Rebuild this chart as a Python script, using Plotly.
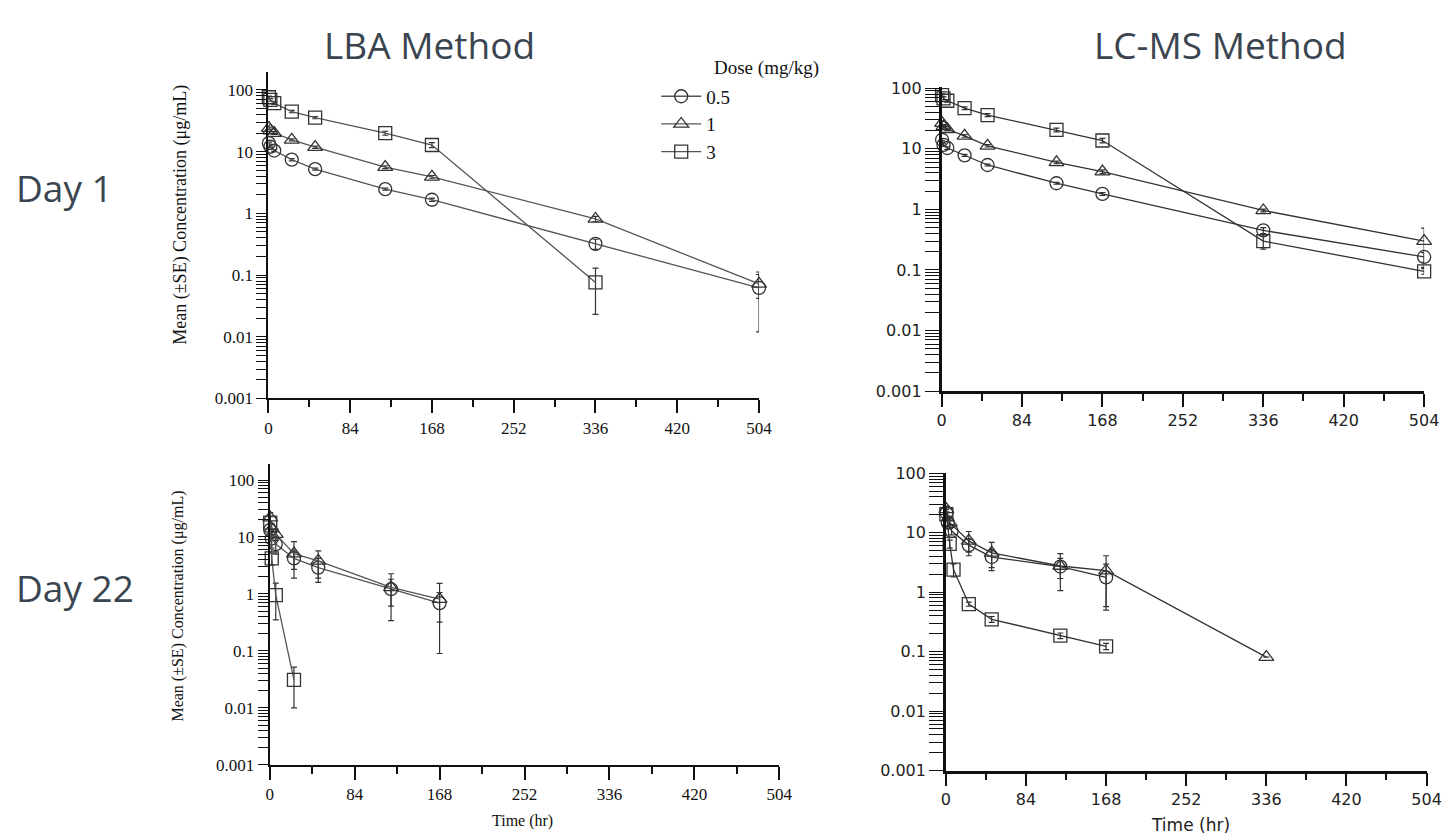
import plotly.graph_objects as go

# ---------------- data ----------------
dose_labels = ["0.5", "1", "3"]

lba_d1_t = [0.5, 2, 6, 24, 48, 120, 168, 336, 504]
lba_d1_sq_t = [0.5, 2, 6, 24, 48, 120, 168, 336]
lba_d1_c05 = [13.7, 12.0, 10.4, 7.4, 5.2, 2.47, 1.66, 0.32, 0.062]
lba_d1_c05_se = [0.5, 0.4, 0.4, 0.3, 0.2, 0.1, 0.1, 0.06, 0.05]
lba_d1_c1 = [24.0, 22.0, 20.0, 15.5, 11.8, 5.6, 3.9, 0.81, 0.072]
lba_d1_c1_se = [1.0, 1.0, 1.0, 0.6, 0.5, 0.3, 0.2, 0.08, 0.03]
lba_d1_c3 = [76.0, 69.0, 61.0, 44.6, 35.6, 19.9, 12.8, 0.076]
lba_d1_c3_se = [3.0, 3.0, 3.0, 2.0, 1.5, 1.5, 1.2, 0.053]

lcms_d1_t = [0.5, 2, 6, 24, 48, 120, 168, 336, 504]
lcms_d1_c05 = [14.1, 11.6, 10.3, 7.8, 5.4, 2.7, 1.8, 0.45, 0.164]
lcms_d1_c05_se = [0.6, 0.5, 0.5, 0.3, 0.2, 0.1, 0.1, 0.05, 0.03]
lcms_d1_c1 = [26.5, 23.4, 21.0, 16.3, 11.2, 5.96, 4.2, 0.96, 0.30]
lcms_d1_c1_se = [1.5, 1.2, 1.0, 0.8, 0.5, 0.3, 0.3, 0.05, 0.19]
lcms_d1_c3 = [77.0, 68.0, 62.0, 46.8, 36.0, 20.5, 13.7, 0.30, 0.095]
lcms_d1_c3_se = [4.0, 4.0, 3.0, 2.5, 2.0, 1.5, 1.2, 0.08, 0.01]

lba_d22_t = [0.5, 2, 6, 24, 48, 120, 168]
lba_d22_sq_t = [0.5, 2, 6, 24]
lba_d22_c05 = [13.3, 9.4, 7.5, 4.2, 2.9, 1.21, 0.69]
lba_d22_c05_se = [4.0, 3.0, 2.5, 1.5, 1.3, 0.6, 0.37]
lba_d22_c1 = [21.9, 14.0, 11.2, 5.1, 3.8, 1.3, 0.81]
lba_d22_c1_se = [5.0, 3.0, 2.5, 3.2, 1.9, 0.96, 0.72]
lba_d22_c3 = [17.8, 4.2, 0.95, 0.031]
lba_d22_c3_se = [5.0, 1.0, 0.6, 0.021]

lcms_d22_c05_t = [0.5, 2, 6, 24, 48, 120, 168]
lcms_d22_c05 = [21.8, 14.8, 10.7, 6.2, 3.9, 2.7, 1.77]
lcms_d22_c05_se = [3.0, 2.0, 1.5, 1.5, 1.3, 1.0, 1.2]
lcms_d22_c1_t = [0.5, 4, 24, 48, 120, 168, 336]
lcms_d22_c1 = [24.8, 14.8, 7.3, 4.6, 2.76, 2.3, 0.081]
lcms_d22_c1_se = [3.0, 3.0, 3.2, 2.3, 1.7, 1.8, 0.0]
lcms_d22_c3_t = [0.5, 4, 8, 24, 48, 120, 168]
lcms_d22_c3 = [20.5, 6.5, 2.4, 0.63, 0.35, 0.186, 0.123]
lcms_d22_c3_se = [2.0, 1.0, 0.6, 0.05, 0.04, 0.02, 0.015]

x_ticks = [0, 84, 168, 252, 336, 420, 504]
x_minor_ticks = [42, 126, 210, 294, 378, 462]
y_ticks = [0.001, 0.01, 0.1, 1, 10, 100]
y_ticktext = ["0.001", "0.01", "0.1", "1", "10", "100"]
y_minor_ticks = [k * 10 ** e for e in range(-3, 2) for k in range(2, 10)]

# ---------------- page geometry ----------------
W, H = 1455, 838
# observed placement of the figure inside the final picture
OX, SX, OY, SY = 11.4, 0.987, 16.9, 0.979


def fx(d):
    return (d - OX) / SX / W


def fy(d):
    return 1 - (d - OY) / SY / H


fig = go.Figure()
symbols = ["circle-open", "triangle-up-open", "square-open"]

panels = [
    ("", [(lba_d1_t, lba_d1_c05, lba_d1_c05_se), (lba_d1_t, lba_d1_c1, lba_d1_c1_se),
          (lba_d1_sq_t, lba_d1_c3, lba_d1_c3_se)], "serif", True),
    ("2", [(lcms_d1_t, lcms_d1_c05, lcms_d1_c05_se), (lcms_d1_t, lcms_d1_c1, lcms_d1_c1_se),
           (lcms_d1_t, lcms_d1_c3, lcms_d1_c3_se)], "sans", False),
    ("3", [(lba_d22_t, lba_d22_c05, lba_d22_c05_se), (lba_d22_t, lba_d22_c1, lba_d22_c1_se),
           (lba_d22_sq_t, lba_d22_c3, lba_d22_c3_se)], "serif", False),
    ("4", [(lcms_d22_c05_t, lcms_d22_c05, lcms_d22_c05_se), (lcms_d22_c1_t, lcms_d22_c1, lcms_d22_c1_se),
           (lcms_d22_c3_t, lcms_d22_c3, lcms_d22_c3_se)], "sans", False),
]

for suffix, series, style, legend in panels:
    line_col = "#555555" if style == "serif" else "#333333"
    for i, (t, v, se) in enumerate(series):
        fig.add_trace(go.Scatter(
            x=t, y=v, mode="lines+markers", name=dose_labels[i], showlegend=legend,
            cliponaxis=False,
            line=dict(color=line_col, width=1.3),
            marker=dict(symbol=symbols[i], size=13, color="#333333",
                        line=dict(color="#333333", width=1.3)),
            error_y=dict(type="data", array=se, visible=True, color="#333333",
                         thickness=1.2, width=3),
            xaxis="x" + suffix, yaxis="y" + suffix,
        ))

# target pixel geometry in the picture: (x0, x1, ytop, ybottom, log-top, style)
geo = {
    "": (267, 758, 72, 399, 2.29, "serif"),
    "2": (940.7, 1423.6, 87, 391.7, 2.02, "sans"),
    "3": (268.3, 778.3, 465, 766, 2.275, "serif"),
    "4": (945, 1426, 474, 771.7, 2.0, "sans"),
}

# all log ticks on one axis: labels only at the decades
all_y_ticks = sorted(y_ticks + y_minor_ticks)
all_y_text = [y_ticktext[y_ticks.index(v)] if v in y_ticks else "" for v in all_y_ticks]

layout_axes = {}
for suffix, (x0, x1, yt, yb, ltop, style) in geo.items():
    if style == "serif":
        tfont = dict(family="Liberation Serif", size=17, color="#111111")
        ylen, lw = 10, 2
    else:
        tfont = dict(family="DejaVu Sans", size=16, color="#222222")
        ylen, lw = 14, 2.5
    layout_axes["xaxis" + suffix] = dict(
        domain=[fx(x0), fx(x1)], anchor="y" + suffix, range=[0, 504],
        tickmode="array", tickvals=x_ticks, ticks="outside", ticklen=13, tickwidth=1.5,
        tickcolor="#111111",
        minor=dict(tickmode="array", tickvals=x_minor_ticks,
                   ticks="outside", ticklen=7, tickwidth=1.5, tickcolor="#111111", showgrid=False),
        showline=True, linecolor="#111111", linewidth=lw, showgrid=False, zeroline=False,
        tickfont=tfont,
    )
    layout_axes["yaxis" + suffix] = dict(
        domain=[fy(yb), fy(yt)], anchor="x" + suffix, type="log", range=[-3, ltop],
        tickmode="array", tickvals=all_y_ticks, ticktext=all_y_text,
        ticks="outside", ticklen=ylen, tickwidth=1.2, tickcolor="#111111",
        showline=True, linecolor="#111111", linewidth=lw, showgrid=False, zeroline=False,
        tickfont=tfont,
    )

fig.update_layout(**layout_axes)

ttl = dict(family="Open Sans", size=37, color="#3a4550")
annotations = [
    dict(text="LBA Method", x=fx(428), y=1, yanchor="top", font=ttl),
    dict(text="LC-MS Method", x=fx(1220), y=1, yanchor="top", font=ttl),
    dict(text="Day 1", x=fx(63), y=fy(188), font=ttl),
    dict(text="Day 22", x=fx(73), y=fy(588), font=ttl),
    dict(text="Mean (±SE) Concentration (μg/mL)", x=fx(179.5), y=fy(215), textangle=-90,
         font=dict(family="Liberation Serif", size=18, color="#111111")),
    dict(text="Mean (±SE) Concentration (μg/mL)", x=fx(177), y=fy(607), textangle=-90,
         font=dict(family="Liberation Serif", size=16, color="#111111")),
    dict(text="Time (hr)", x=fx(521), y=fy(822), font=dict(family="Liberation Serif", size=16, color="#111111")),
    dict(text="Time (hr)", x=fx(1190), y=fy(826), font=dict(family="DejaVu Sans", size=17, color="#222222")),
    dict(text="Dose (mg/kg)", x=fx(711), y=fy(68), xanchor="left",
         font=dict(family="Liberation Serif", size=19, color="#111111")),
]
for a in annotations:
    a.update(xref="paper", yref="paper", showarrow=False)
    a.setdefault("xanchor", "center")
    a.setdefault("yanchor", "middle")

fig.update_layout(
    width=W, height=H,
    margin=dict(l=0, r=0, t=0, b=0),
    paper_bgcolor="white", plot_bgcolor="white",
    annotations=annotations,
    showlegend=True,
    legend=dict(x=fx(663) - 8 / W, y=fy(97) + 20 / H, xanchor="left", yanchor="top",
                font=dict(family="Liberation Serif", size=19, color="#111111"),
                bgcolor="rgba(0,0,0,0)", itemwidth=40, tracegroupgap=0),
)

fig.write_html("out.html", config={"displayModeBar": False})
